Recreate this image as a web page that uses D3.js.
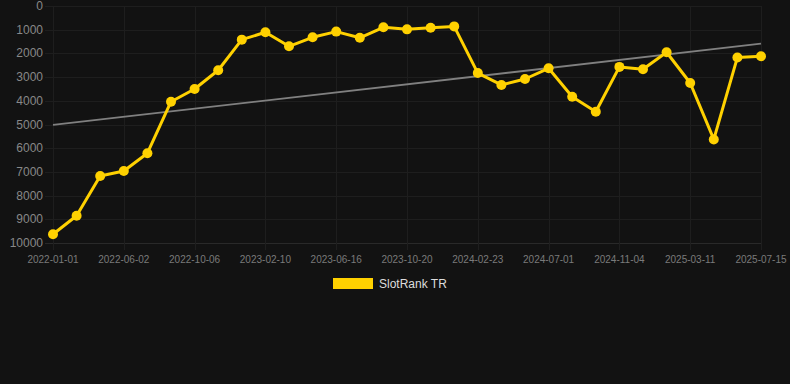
<!DOCTYPE html>
<html>
<head>
<meta charset="utf-8">
<script src="https://cdn.jsdelivr.net/npm/d3@7"></script>
<style>
  html, body { margin: 0; padding: 0; background: #121212; }
  svg { display: block; font-family: "Liberation Sans", Arial, sans-serif; }
</style>
</head>
<body>
<script>
// Chart data.
var dates = [
    "2022-01-01", "2022-02-20", "2022-04-12", "2022-06-02", "2022-07-14", "2022-08-25",
    "2022-10-06", "2022-11-17", "2022-12-29", "2023-02-10", "2023-03-24", "2023-05-05",
    "2023-06-16", "2023-07-28", "2023-09-08", "2023-10-20", "2023-12-01", "2024-01-12",
    "2024-02-23", "2024-04-05", "2024-05-18", "2024-07-01", "2024-08-12", "2024-09-23",
    "2024-11-04", "2024-12-16", "2025-01-27", "2025-03-11", "2025-04-22", "2025-06-03",
    "2025-07-15"
];
var ranks = [
    9630, 8850, 7170, 6960, 6210, 4040, 3500, 2710, 1420, 1110,
    1700, 1320, 1080, 1340, 900, 985, 915, 860, 2830, 3330,
    3080, 2630, 3830, 4460, 2570, 2670, 1950, 3250, 5630, 2170,
    2120
];
var trend = [5020, 1590];
var yTicks = [0, 1000, 2000, 3000, 4000, 5000, 6000, 7000, 8000, 9000, 10000];
var seriesName = "SlotRank TR";

// Canvas and plot box.
var width      = 790,
    height     = 384,
    plotLeft   = 53,
    plotRight  = 761,
    plotTop    = 6,
    plotBottom = 243;

var svg = d3.select("body")
    .append("svg")
    .attr("width", width)
    .attr("height", height);

svg.append("rect")
    .attr("width", width)
    .attr("height", height)
    .attr("fill", "#121212");

var x = d3.scalePoint()
    .domain(dates)
    .range([plotLeft, plotRight]);

var y = d3.scaleLinear()
    .domain([0, 10000])
    .range([plotTop, plotBottom]);

var labelDates = dates.filter(function(d, i) { return i % 3 === 0; });

// Horizontal grid, running a little left of the plot as ticks.
svg.append("g")
    .selectAll("line")
    .data(yTicks)
  .enter()
    .append("line")
    .attr("x1", plotLeft - 8)
    .attr("x2", plotRight)
    .attr("y1", function(d) { return Math.round(y(d)) + 0.5; })
    .attr("y2", function(d) { return Math.round(y(d)) + 0.5; })
    .attr("stroke", function(d) { return d === 10000 ? "#292929" : "#1e1e1e"; })
    .attr("stroke-width", 1);

// Vertical grid, running a little below the axis as ticks.
svg.append("g")
    .selectAll("line")
    .data(labelDates)
  .enter()
    .append("line")
    .attr("x1", function(d) { return Math.round(x(d)) + 0.5; })
    .attr("x2", function(d) { return Math.round(x(d)) + 0.5; })
    .attr("y1", plotTop)
    .attr("y2", plotBottom + 7)
    .attr("stroke", "#1e1e1e")
    .attr("stroke-width", 1);

// Y labels.
svg.append("g")
    .selectAll("text")
    .data(yTicks)
  .enter()
    .append("text")
    .text(function(d) { return d; })
    .attr("x", 43)
    .attr("y", function(d) { return y(d) + 4; })
    .attr("text-anchor", "end")
    .attr("font-size", "12px")
    .attr("fill", "#888");

// X labels.
svg.append("g")
    .selectAll("text")
    .data(labelDates)
  .enter()
    .append("text")
    .text(function(d) { return d; })
    .attr("x", function(d) { return x(d); })
    .attr("y", 263)
    .attr("text-anchor", "middle")
    .attr("font-size", "10px")
    .attr("fill", "#7a7a7a");

// Trend line.
svg.append("line")
    .attr("x1", x(dates[0]))
    .attr("x2", x(dates[dates.length - 1]))
    .attr("y1", y(trend[0]))
    .attr("y2", y(trend[1]))
    .attr("stroke", "#808080")
    .attr("stroke-width", 1.8);

// Series line.
var line = d3.line()
    .x(function(d, i) { return x(dates[i]); })
    .y(function(d) { return y(d); });

svg.append("path")
    .datum(ranks)
    .attr("d", line)
    .attr("fill", "none")
    .attr("stroke", "#ffd100")
    .attr("stroke-width", 3)
    .attr("stroke-linejoin", "round");

svg.append("g")
    .selectAll("circle")
    .data(ranks)
  .enter()
    .append("circle")
    .attr("cx", function(d, i) { return x(dates[i]); })
    .attr("cy", function(d) { return y(d); })
    .attr("r", 5)
    .attr("fill", "#ffd100");

// Legend.
svg.append("rect")
    .attr("x", 333)
    .attr("y", 278)
    .attr("width", 40)
    .attr("height", 11)
    .attr("fill", "#ffd100");

svg.append("text")
    .text(seriesName)
    .attr("x", 379)
    .attr("y", 288)
    .attr("font-size", "12px")
    .attr("fill", "#ddd");
</script>
</body>
</html>
